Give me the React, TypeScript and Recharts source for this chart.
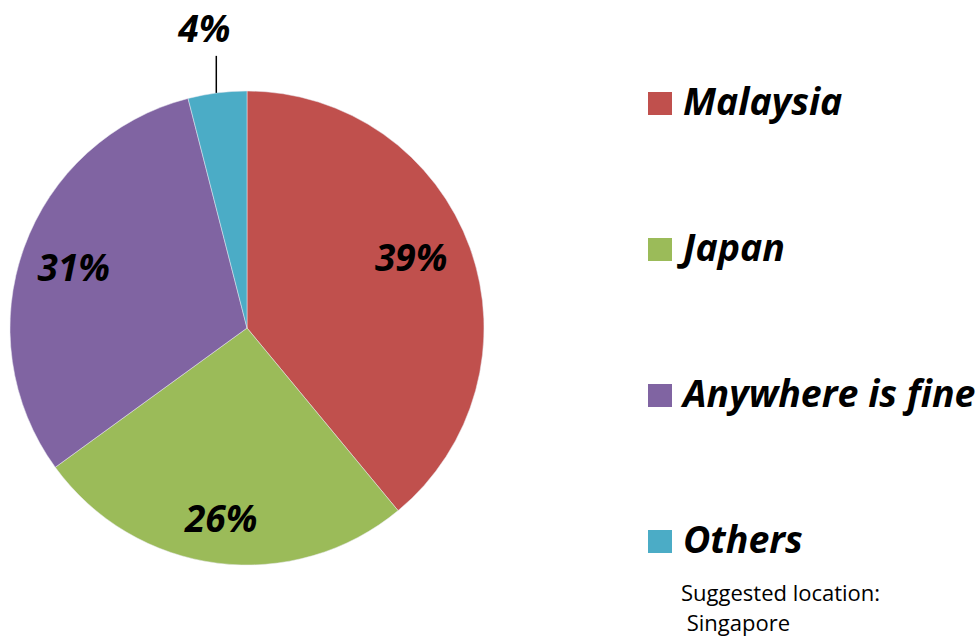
import React from "react";
import { PieChart, Pie, Cell, Legend } from "recharts";

const categories = ["Malaysia", "Japan", "Anywhere is fine", "Others"];
const values = [39, 26, 31, 4];
const colors = ["#C0504D", "#9BBB59", "#8064A2", "#4BACC6"];
const noteLines = ["Suggested location:", " Singapore"];

const data = categories.map((name, i) => ({ name, value: values[i] }));

// label placement tweaks (fraction of radius, angle shift in degrees)
const labelRadiusFrac = [0.755, 0.805, 0.775];
const labelAngleShift = [3.6, -0.6, 0.4];

const FONT = "'Open Sans', 'DejaVu Sans', sans-serif";
const RAD = Math.PI / 180;

const renderLabel = (props: any) => {
  const { cx, cy, midAngle, outerRadius, index, value } = props;
  if (index === 3) {
    const x0 = cx + outerRadius * Math.cos(-midAngle * RAD);
    const y0 = cy + outerRadius * Math.sin(-midAngle * RAD);
    return (
      <g>
        <line x1={x0 - 1} y1={y0} x2={x0 - 1} y2={y0 - 37} stroke="#000" strokeWidth={1.5} />
        <text
          x={x0 - 13}
          y={y0 - 51}
          textAnchor="middle"
          fontFamily={FONT}
          fontWeight={700}
          fontStyle="italic"
          fontSize={37}
          fill="#000"
        >
          {`${value}%`}
        </text>
      </g>
    );
  }
  const ang = midAngle + labelAngleShift[index];
  const r = outerRadius * labelRadiusFrac[index];
  const x = cx + r * Math.cos(-ang * RAD);
  const y = cy + r * Math.sin(-ang * RAD);
  return (
    <text
      x={x}
      y={y}
      textAnchor="middle"
      dominantBaseline="central"
      fontFamily={FONT}
      fontWeight={700}
      fontStyle="italic"
      fontSize={37}
      fill="#000"
    >
      {`${value}%`}
    </text>
  );
};

const renderLegend = () => (
  <svg width={339} height={639} style={{ display: "block" }}>
    {categories.map((c, i) => (
      <g key={c}>
        <rect x={8} y={92 + i * 146} width={24} height={23} fill={colors[i]} />
        <text
          x={43}
          y={115 + i * 146}
          fontFamily={FONT}
          fontWeight={700}
          fontStyle="italic"
          fontSize={37.5}
          fill="#000"
        >
          {c}
        </text>
      </g>
    ))}
    {noteLines.map((t, i) => (
      <text
        key={i}
        x={41}
        y={601 + i * 30}
        fontFamily={FONT}
        fontSize={22}
        fill="#000"
        style={{ whiteSpace: "pre" }}
      >
        {t}
      </text>
    ))}
  </svg>
);

export default function App() {
  return (
    <div style={{ position: "absolute", left: 0, top: 0, background: "#fff" }}>
      <PieChart width={979} height={639} margin={{ top: 0, right: 0, bottom: 0, left: 0 }}>
        <Pie
          data={data}
          dataKey="value"
          nameKey="name"
          cx={247}
          cy={328}
          outerRadius={237}
          startAngle={90}
          endAngle={-270}
          stroke="#e8e8f0"
          strokeWidth={0.5}
          label={renderLabel}
          labelLine={false}
          isAnimationActive={false}
        >
          {data.map((d, i) => (
            <Cell key={d.name} fill={colors[i]} />
          ))}
        </Pie>
        <Legend
          layout="vertical"
          align="right"
          verticalAlign="top"
          content={renderLegend}
          wrapperStyle={{ position: "absolute", left: 640, top: 0, width: 339, height: 639 }}
        />
      </PieChart>
    </div>
  );
}
